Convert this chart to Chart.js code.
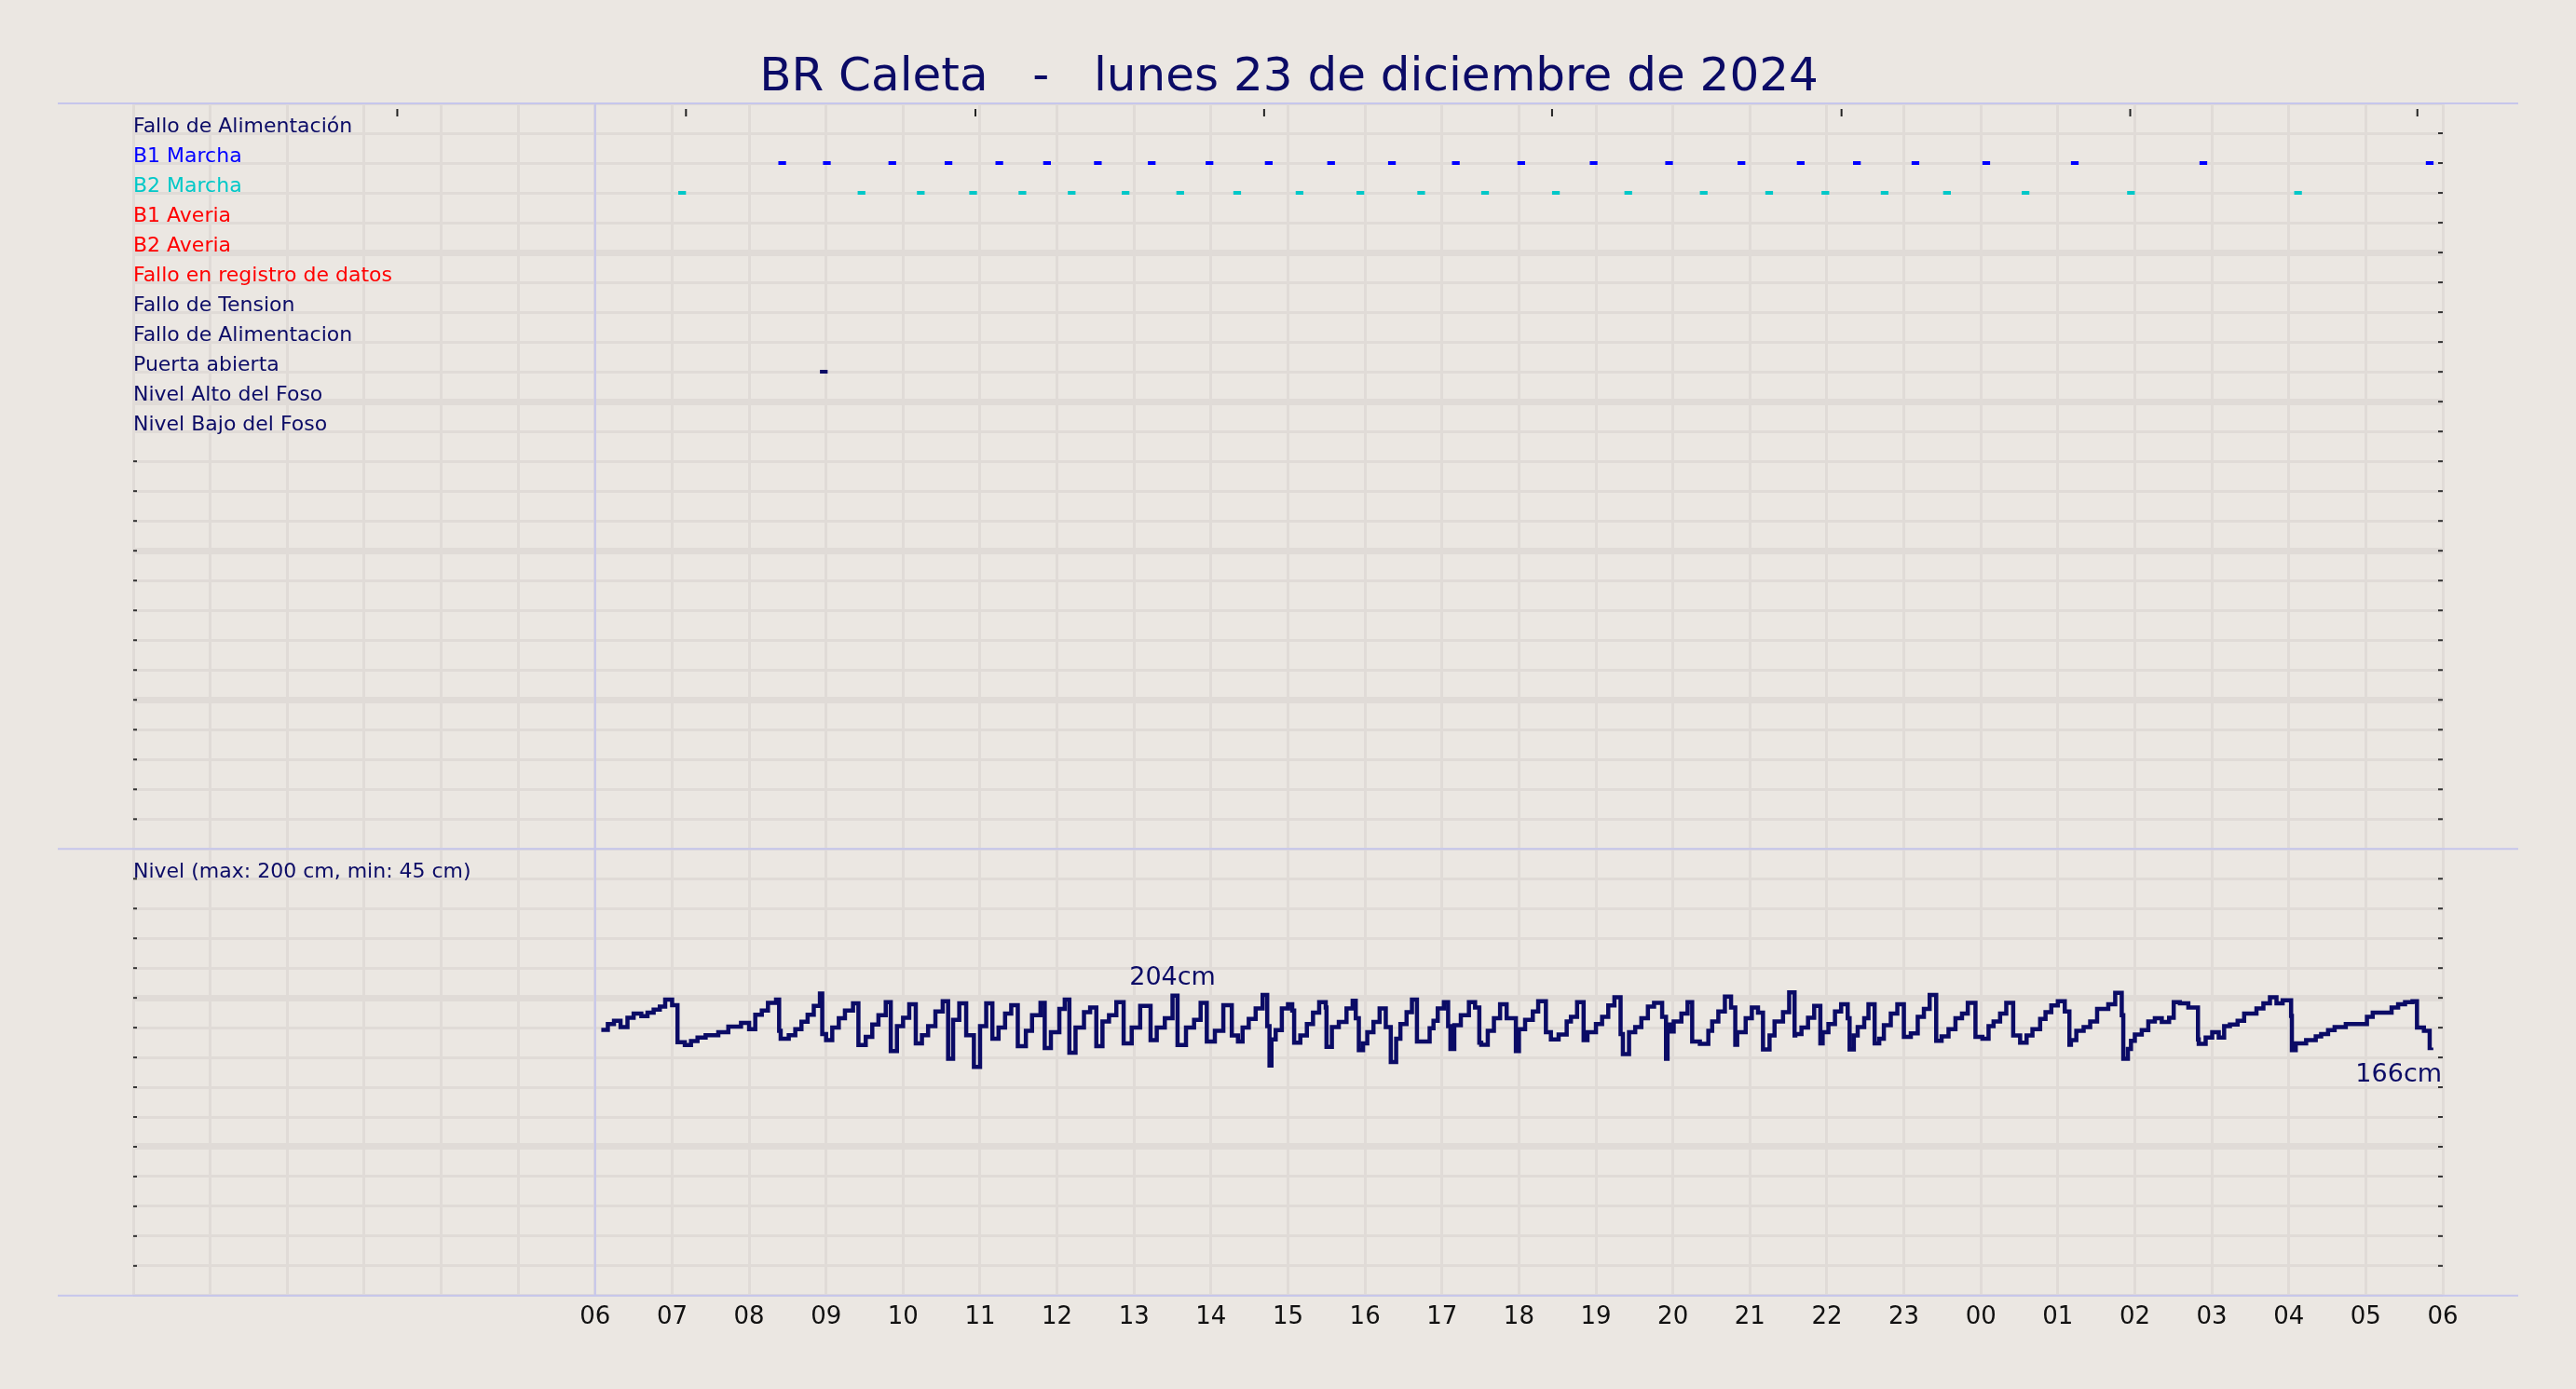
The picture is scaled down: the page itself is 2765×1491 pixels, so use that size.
<!DOCTYPE html>
<html>
<head>
<meta charset="utf-8">
<script src="https://cdn.jsdelivr.net/npm/chart.js@4/dist/chart.umd.min.js"></script>
<style>
  html, body { margin: 0; padding: 0; background: #ebe7e2; }
  #wrap { width: 2765px; height: 1491px; position: relative; }
</style>
</head>
<body>
<div id="wrap"><canvas id="c" width="2765" height="1491"></canvas></div>
<script>
// hours since 00:00 of 23/12
const titleText = 'BR Caleta   -   lunes 23 de diciembre de 2024';
const hourLabels = ['00','01','02','03','04','05','06','07','08','09','10','11','12','13','14','15','16','17','18','19','20','21','22','23','00','01','02','03','04','05','06'];
const firstLabeledHour = 6;
const topTicks = [3.43, 7.18, 10.94, 14.69, 18.43, 22.19, 25.94, 29.67];

const signalNames = ['Fallo de Alimentación', 'B1 Marcha', 'B2 Marcha', 'B1 Averia', 'B2 Averia',
  'Fallo en registro de datos', 'Fallo de Tension', 'Fallo de Alimentacion', 'Puerta abierta',
  'Nivel Alto del Foso', 'Nivel Bajo del Foso'];
const signalColors = ['#0b0b66', '#0000ff', '#00c8c8', '#ff0000', '#ff0000', '#ff0000',
  '#0b0b66', '#0b0b66', '#0b0b66', '#0b0b66', '#0b0b66'];

const b1Starts = [8.38, 8.96, 9.81, 10.54, 11.2, 11.82, 12.48, 13.18, 13.93, 14.7, 15.51, 16.3,
  17.13, 17.98, 18.92, 19.9, 20.84, 21.61, 22.34, 23.1, 24.02, 25.17, 26.84, 29.78];
const b2Starts = [7.08, 9.41, 10.18, 10.86, 11.5, 12.14, 12.84, 13.55, 14.29, 15.1, 15.89, 16.68,
  17.51, 18.43, 19.37, 20.35, 21.2, 21.93, 22.7, 23.51, 24.53, 25.9, 28.07];
const puertaStarts = [8.92];
const markLen = 0.1;

const levelHours = [6.08,6.165,6.245,6.33,6.42,6.5,6.6,6.68,6.76,6.84,6.91,7.0,7.07,7.165,7.245,7.33,7.435,7.6,7.73,7.895,8.0,8.08,8.165,8.245,8.35,8.39,8.41,8.515,8.6,8.68,8.76,8.84,8.92,8.95,9.0,9.08,9.165,9.245,9.35,9.42,9.515,9.6,9.68,9.775,9.84,9.92,10.0,10.08,10.165,10.245,10.325,10.42,10.515,10.585,10.65,10.73,10.82,10.92,11.0,11.08,11.16,11.24,11.325,11.405,11.49,11.595,11.675,11.785,11.84,11.92,12.03,12.1,12.16,12.24,12.35,12.43,12.51,12.59,12.675,12.77,12.865,12.97,13.08,13.215,13.295,13.4,13.5,13.565,13.675,13.78,13.865,13.945,14.05,14.16,14.27,14.35,14.41,14.49,14.58,14.67,14.73,14.76,14.785,14.84,14.92,15.0,15.055,15.08,15.16,15.245,15.325,15.405,15.49,15.5,15.57,15.66,15.76,15.84,15.88,15.92,15.975,16.03,16.11,16.19,16.27,16.335,16.405,16.46,16.54,16.61,16.675,16.84,16.89,16.945,17.025,17.08,17.11,17.16,17.245,17.35,17.43,17.485,17.51,17.595,17.675,17.755,17.84,17.96,18.0,18.08,18.18,18.25,18.35,18.415,18.515,18.62,18.675,18.755,18.84,18.89,19.0,19.08,19.16,19.24,19.32,19.35,19.43,19.51,19.59,19.675,19.755,19.86,19.91,19.93,19.97,20.01,20.11,20.19,20.25,20.35,20.46,20.51,20.59,20.675,20.755,20.81,20.835,20.945,21.025,21.105,21.17,21.255,21.32,21.43,21.51,21.58,21.59,21.67,21.755,21.835,21.915,21.945,22.02,22.105,22.185,22.27,22.295,22.35,22.4,22.485,22.54,22.62,22.68,22.74,22.83,22.915,23.0,23.09,23.18,23.26,23.335,23.42,23.49,23.58,23.67,23.755,23.83,23.93,24.02,24.1,24.165,24.25,24.33,24.42,24.51,24.594,24.67,24.77,24.84,24.915,25.0,25.09,25.15,25.17,25.24,25.335,25.42,25.51,25.655,25.745,25.83,25.85,25.91,25.95,26.0,26.09,26.175,26.26,26.35,26.445,26.505,26.585,26.695,26.82,26.83,26.92,27.005,27.09,27.16,27.235,27.335,27.42,27.58,27.67,27.755,27.84,27.92,28.03,28.04,28.09,28.15,28.225,28.35,28.42,28.51,28.595,28.74,29.015,29.09,29.335,29.42,29.51,29.607,29.665,29.755,29.83,29.85,29.94];
const levelCm = [179,183.3,185.6,181,187.8,190.8,189,191.5,193.7,196,201,197,170,168,170.8,173.3,175,177.2,181.3,184,179.4,190,193,198.7,201,178.3,172.6,175,179.4,185,190,196.5,205.5,176,171.5,180.6,187.4,193,198.3,168,173.8,182.8,189.6,199.2,163.5,181.7,187.8,197.6,169.2,175,181.7,192.4,199.9,157.9,186.2,198.3,175,152,181.7,198.3,172.6,180.6,190.8,197,167,178.3,189.6,198.7,165.8,177.2,194.2,201,162.4,180.6,191.9,195.3,167,185.1,189.6,199.2,169.2,180.6,196.5,171.5,180.6,187.4,204,168,180.6,186.2,198.7,170.4,178.3,197,174.9,170.4,180.6,186.9,194.6,204.4,181.7,152.9,172,178.8,194.6,197.6,193,169.7,174.9,183.3,191.5,199.2,195.3,166.5,181,184.7,194.6,200.3,187.4,164.2,169.2,177.2,184.7,194.6,181,155.6,172.6,183.3,191.9,201,170.4,180.1,185.6,194.6,199.2,181.7,165.1,182.4,189.6,199.2,195.3,169.7,168.1,178.3,187.4,197.6,187.4,163.5,179.4,186.2,192.4,199.9,177.2,172,175.6,185.1,188.5,199.2,171.5,177.2,183.3,188.5,196.9,202.8,176,161.3,177.2,181,187.4,196,198.7,188.5,157.9,182.8,177.8,185.1,190.8,199.2,170.4,168.8,178.3,185.1,192.4,203.3,195.3,168.1,177.2,187.4,195.3,191.5,164.7,174.9,185.1,191.9,206.4,174.9,176,180.6,187.8,196.5,169.2,177.2,183.3,192.4,197.6,187.4,164.7,174.9,181,187.4,197.6,169.2,172.6,182.4,190.8,197.6,173.8,176.5,188.5,194.2,204.4,171,174.2,179.4,187.4,190.8,198.7,173.8,172.6,181.7,185.1,190.8,198.7,174.9,169.7,174.9,179.4,186.9,191.9,196.9,199.9,192.4,168.1,171.5,178.3,181,185.1,194.2,197.6,206,189.6,157.9,165.1,171,175.6,178.8,185.1,187.4,184.7,187.8,199.2,198.3,195.3,172,168.8,173.3,177.2,173.3,181.7,182.8,185.6,190.8,194.6,198.3,202.8,198.3,200.5,189.2,164.2,169.2,169.2,171.5,174.2,176,178.8,181,183.3,188.5,191.5,195.3,197.6,199.2,199.9,180.6,178.3,165.8,166];
const peakLabel = { h: 13.5, cm: 204, text: '204cm' };
const lastLabel = { h: 29.94, cm: 166, text: '166cm' };
const levelTitle = 'Nivel (max: 200 cm, min: 45 cm)';

const NAVY = '#0b0b66';
const FONT = "'DejaVu Sans', sans-serif";

function marks(starts, row) {
  const pts = [];
  starts.forEach(s => { pts.push({ x: s, y: row }, { x: s + markLen, y: row }, { x: s, y: null }); });
  return pts;
}

const evRows = 25;
const lvMin = -15, lvMax = 311, lvRows = 15;

const framePlugin = {
  id: 'frame',
  beforeDraw(chart) {
    const ctx = chart.ctx;
    ctx.save();
    ctx.fillStyle = '#ebe7e2';
    ctx.fillRect(0, 0, chart.width, chart.height);
    ctx.restore();
  },
  afterDatasetsDraw(chart) {
    const { ctx, chartArea: a, scales } = chart;
    const x = scales.x, ye = scales.yEv, yl = scales.yLv;
    ctx.save();
    // panel separators
    ctx.strokeStyle = '#c6c6ec';
    ctx.lineWidth = 2;
    [a.top, ye.bottom, a.bottom].forEach(py => {
      ctx.beginPath(); ctx.moveTo(62, py); ctx.lineTo(2703, py); ctx.stroke();
    });
    const x6 = x.getPixelForValue(firstLabeledHour);
    ctx.beginPath(); ctx.moveTo(x6, a.top); ctx.lineTo(x6, a.bottom); ctx.stroke();
    // top ticks
    ctx.strokeStyle = '#222';
    ctx.lineWidth = 2;
    topTicks.forEach(h => {
      const px = x.getPixelForValue(h);
      ctx.beginPath(); ctx.moveTo(px, a.top + 6); ctx.lineTo(px, a.top + 14); ctx.stroke();
    });
    // small dashes on both edges
    ctx.strokeStyle = '#333';
    for (let k = 1; k < evRows; k++) {
      const py = ye.getPixelForValue(k);
      ctx.beginPath(); ctx.moveTo(a.right - 5, py); ctx.lineTo(a.right, py); ctx.stroke();
      if (k > signalNames.length) { ctx.beginPath(); ctx.moveTo(a.left, py); ctx.lineTo(a.left + 4, py); ctx.stroke(); }
    }
    for (let k = 1; k < lvRows; k++) {
      const py = yl.getPixelForValue(lvMin + (lvMax - lvMin) * k / lvRows);
      ctx.beginPath(); ctx.moveTo(a.right - 5, py); ctx.lineTo(a.right, py); ctx.stroke();
      ctx.beginPath(); ctx.moveTo(a.left, py); ctx.lineTo(a.left + 4, py); ctx.stroke();
    }
    // signal names
    ctx.font = '22px ' + FONT;
    ctx.textBaseline = 'alphabetic';
    signalNames.forEach((n, i) => {
      ctx.fillStyle = signalColors[i];
      ctx.fillText(n, a.left, ye.getPixelForValue(i + 1) - 1);
    });
    ctx.fillStyle = NAVY;
    ctx.fillText(levelTitle, a.left, yl.getPixelForValue(lvMin + (lvMax - lvMin) * 14 / lvRows) - 1);
    // value labels
    ctx.font = '27px ' + FONT;
    ctx.textAlign = 'center';
    ctx.fillText(peakLabel.text, x.getPixelForValue(peakLabel.h), yl.getPixelForValue(peakLabel.cm) - 12);
    ctx.textAlign = 'right';
    ctx.fillText(lastLabel.text, x.getPixelForValue(lastLabel.h) + 4, yl.getPixelForValue(lastLabel.cm) + 36);
    // title
    ctx.textAlign = 'center';
    ctx.font = '50px ' + FONT;
    ctx.fillText(titleText, chart.width / 2 + 1, 97);
    ctx.restore();
  }
};

function gridColor(c) { return '#e0dbd7'; }

new Chart(document.getElementById('c'), {
  type: 'line',
  data: {
    datasets: [
      { data: levelHours.map((h, i) => ({ x: h, y: levelCm[i] })), yAxisID: 'yLv', stepped: 'before',
        borderColor: NAVY, borderWidth: 4.5, pointRadius: 0 },
      { data: marks(b1Starts, 2), yAxisID: 'yEv', borderColor: '#0000ff', borderWidth: 4, pointRadius: 0, spanGaps: false },
      { data: marks(b2Starts, 3), yAxisID: 'yEv', borderColor: '#00c8c8', borderWidth: 4, pointRadius: 0, spanGaps: false },
      { data: marks(puertaStarts, 9), yAxisID: 'yEv', borderColor: NAVY, borderWidth: 4, pointRadius: 0, spanGaps: false }
    ]
  },
  options: {
    responsive: false,
    animation: false,
    devicePixelRatio: 1,
    layout: { padding: { left: 143, right: 143, top: 111, bottom: 53 } },
    plugins: { legend: { display: false }, tooltip: { enabled: false } },
    scales: {
      x: {
        type: 'linear', min: 0, max: 30,
        afterBuildTicks(s) { s.ticks = hourLabels.map((l, i) => ({ value: i })); },
        ticks: {
          autoSkip: false, maxRotation: 0, color: '#111', padding: 8,
          font: { family: FONT, size: 26 },
          callback: v => v >= firstLabeledHour ? hourLabels[v] : ''
        },
        grid: { color: gridColor, lineWidth: 3, drawTicks: false },
        border: { display: false }
      },
      yLv: {
        type: 'linear', position: 'left', stack: 'panel', stackWeight: 272, offset: false,
        min: lvMin, max: lvMax,
        afterBuildTicks(s) { const t = []; for (let k = 0; k <= lvRows; k++) t.push({ value: lvMin + (lvMax - lvMin) * k / lvRows }); s.ticks = t; },
        ticks: { display: false },
        grid: { color: gridColor, lineWidth: c => (c.index === 5 || c.index === 10) ? 7 : 3, drawTicks: false },
        border: { display: false }
      },
      yEv: {
        type: 'linear', position: 'left', stack: 'panel', stackWeight: 454, offset: false,
        min: 0, max: evRows, reverse: true,
        afterBuildTicks(s) { const t = []; for (let k = 0; k <= evRows; k++) t.push({ value: k }); s.ticks = t; },
        ticks: { display: false },
        grid: { color: gridColor, lineWidth: c => (c.index % 5 === 0 && c.index > 0 && c.index < evRows) ? 7 : 3, drawTicks: false },
        border: { display: false }
      }
    }
  },
  plugins: [framePlugin]
});
</script>
</body>
</html>
